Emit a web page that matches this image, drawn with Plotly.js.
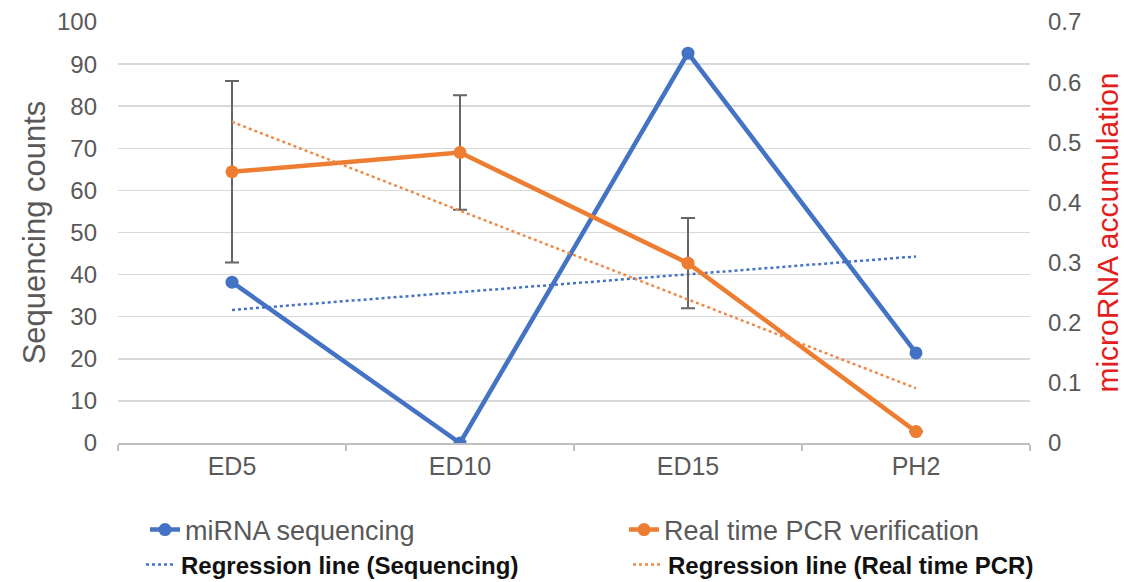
<!DOCTYPE html>
<html>
<head>
<meta charset="utf-8">
<script src="https://cdn.plot.ly/plotly-3.0.1.min.js"></script>
<style>html,body{margin:0;padding:0;background:#fff;}#chart{width:1124px;height:582px;}</style>
</head>
<body>
<div id="chart"></div>
<script>
// ---- data ----
const stages = ['ED5', 'ED10', 'ED15', 'PH2'];
const seqCounts = [38.2, 0, 92.6, 21.4];            // miRNA sequencing (left axis)
const pcrValues = [0.451, 0.483, 0.299, 0.019];     // Real time PCR (right axis)
const pcrErrors = [0.151, 0.095, 0.075, 0];          // error bars
const regSeqStages = ['ED5', 'PH2'];
const regSeqValues = [31.6, 44.3];                   // regression line (sequencing)
const regPcrStages = ['ED5', 'PH2'];
const regPcrValues = [0.534, 0.091];                 // regression line (PCR)
const seriesNames = ['miRNA sequencing', 'Real time PCR verification',
                     'Regression line (Sequencing)', 'Regression line (Real time PCR)'];

const BLUE = '#4472C4', ORANGE = '#ED7D31', GREY = '#595959';
const FONT = 'Liberation Sans, Arial, sans-serif';

const traces = [
  {x: stages, y: seqCounts, name: seriesNames[0], type: 'scatter', mode: 'lines+markers',
   line: {color: BLUE, width: 4.5}, marker: {color: BLUE, size: 13}, legend: 'legend'},
  {x: stages, y: pcrValues, name: seriesNames[1], type: 'scatter', mode: 'lines+markers', yaxis: 'y2',
   line: {color: ORANGE, width: 4.5}, marker: {color: ORANGE, size: 13},
   error_y: {type: 'data', array: pcrErrors, visible: true, color: '#666666', thickness: 2, width: 7},
   legend: 'legend2'},
  {x: regSeqStages, y: regSeqValues, name: seriesNames[2], type: 'scatter', mode: 'lines',
   line: {color: BLUE, width: 2.5, dash: 'dot'}, legend: 'legend3'},
  {x: regPcrStages, y: regPcrValues, name: seriesNames[3], type: 'scatter', mode: 'lines', yaxis: 'y2',
   line: {color: '#EE8A48', width: 2.5, dash: 'dot'}, legend: 'legend4'}
];

const W = 1124, H = 582;
const plotL = 118, plotR = 1030, plotT = 22, plotB = 443;

function leg(xpx, ypx, font) {
  return {xref: 'container', yref: 'container', x: xpx / W, y: (H - ypx) / H,
          xanchor: 'left', yanchor: 'middle',
          orientation: 'h', bgcolor: 'rgba(0,0,0,0)', font: font};
}
const rowFont1 = {family: FONT, size: 27, color: GREY};
const rowFont2 = {family: FONT, size: 24, color: '#111111', weight: 'bold'};

const layout = {
  width: W, height: H,
  margin: {l: plotL, r: W - plotR, t: plotT, b: H - plotB, autoexpand: false},
  paper_bgcolor: '#ffffff', plot_bgcolor: '#ffffff',
  font: {family: FONT, color: GREY},
  showlegend: true,
  xaxis: {
    type: 'category', categoryorder: 'array', categoryarray: stages,
    range: [-0.5, 3.5], showgrid: false, zeroline: false,
    showline: true, linecolor: '#BFBFBF', linewidth: 1.5,
    ticks: 'outside', tickson: 'boundaries', ticklen: 6, tickcolor: '#BFBFBF', tickwidth: 1.5,
    tickfont: {family: FONT, size: 25, color: GREY}
  },
  yaxis: {
    range: [0, 100], dtick: 10, tick0: 0,
    showgrid: true, gridcolor: '#D9D9D9', gridwidth: 1.5, zeroline: false,
    showline: false, ticks: '', ticklabelstandoff: 20,
    tickfont: {family: FONT, size: 24, color: GREY},
    title: {text: 'Sequencing counts', font: {family: FONT, size: 31, color: GREY}, standoff: 2}
  },
  yaxis2: {
    overlaying: 'y', side: 'right', range: [0, 0.7], dtick: 0.1, tick0: 0,
    showgrid: false, zeroline: false, showline: false, ticks: '', ticklabelstandoff: 17,
    tickfont: {family: FONT, size: 24, color: GREY},
    title: {text: 'microRNA accumulation', font: {family: FONT, size: 30, color: '#E3201B'}, standoff: 16}
  },
  legend:  leg(145, 530, rowFont1),
  legend2: leg(624, 530, rowFont1),
  legend3: leg(141, 565, rowFont2),
  legend4: leg(628, 565, rowFont2)
};

Plotly.newPlot('chart', traces, layout, {displayModeBar: false, staticPlot: true});
</script>
</body>
</html>
